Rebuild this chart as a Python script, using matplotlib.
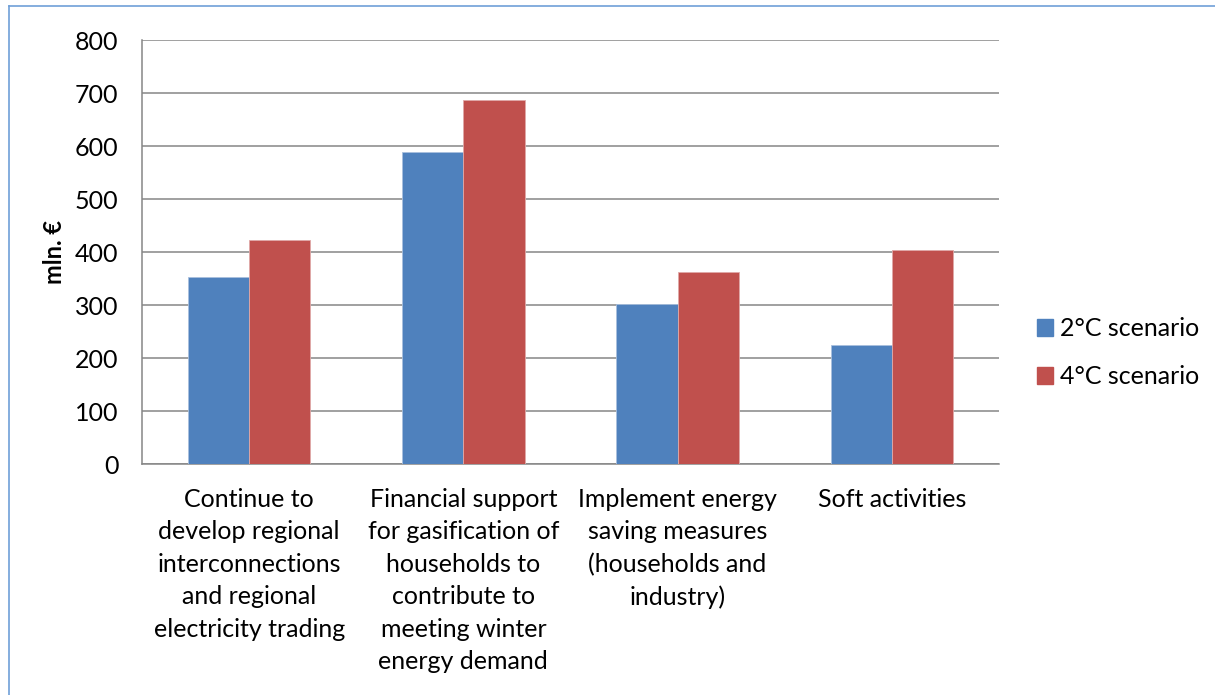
import matplotlib
matplotlib.use("Agg")
import matplotlib.pyplot as plt
import numpy as np
from matplotlib.lines import Line2D

plt.rcParams['font.family'] = ['Lato', 'DejaVu Sans']

categories = [
    "Continue to\ndevelop regional\ninterconnections\nand regional\nelectricity trading",
    "Financial support\nfor gasification of\nhouseholds to\ncontribute to\nmeeting winter\nenergy demand",
    "Implement energy\nsaving measures\n(households and\nindustry)",
    "Soft activities",
]
series_names = ["2°C scenario", "4°C scenario"]
values_2c = [353, 588, 302, 224]
values_4c = [423, 687, 362, 404]
yticks = [0, 100, 200, 300, 400, 500, 600, 700, 800]

blue = '#4F81BD'
red = '#C0504D'
grid_c = '#868686'

fig = plt.figure(figsize=(12.15, 6.95), dpi=100)
ax = fig.add_axes([142/1215, 1 - 464/695, (999 - 142)/1215, (464 - 40)/695])

x = np.arange(len(categories))
w = 1 / 3.5
ax.bar(x - w/2, values_2c, w, color=blue, edgecolor='#A9C0DE', linewidth=0.6,
       label=series_names[0], zorder=3)
ax.bar(x + w/2, values_4c, w, color=red, edgecolor='#E0A9A8', linewidth=0.6,
       label=series_names[1], zorder=3)

ax.set_xlim(-0.5, len(categories) - 0.5)
ax.set_ylim(0, 800)
ax.set_yticks(yticks)
ax.yaxis.grid(True, color=grid_c, linewidth=1.1, zorder=0)
ax.set_axisbelow(True)
for s in ['top', 'right']:
    ax.spines[s].set_visible(False)
for s in ['left', 'bottom']:
    ax.spines[s].set_color(grid_c)
    ax.spines[s].set_linewidth(1.1)
ax.tick_params(axis='both', length=0, labelsize=18, colors='black')
ax.tick_params(axis='y', pad=17)
ax.set_xticks(x)
ax.set_xticklabels(categories, linespacing=1.5, fontsize=18)
ax.tick_params(axis='x', pad=17)

fig.text(55/1215, 1 - 252/695, "mln. €", rotation=90, fontsize=17,
         fontweight='bold', ha='center', va='center')

handles = [plt.Rectangle((0, 0), 1, 1, color=blue), plt.Rectangle((0, 0), 1, 1, color=red)]
fig.legend(handles, series_names, loc='center left',
           bbox_to_anchor=(1014/1215, 1 - 353/695), frameon=False, fontsize=18,
           handlelength=0.65, handleheight=0.65, handletextpad=0.3, labelspacing=1.0)

# light blue frame around the chart area
fig.add_artist(Line2D([8.5/1215, 8.5/1215], [0, 1 - 5.5/695], transform=fig.transFigure,
                      color='#6FA0D8', linewidth=1.2))
fig.add_artist(Line2D([8.5/1215, 1], [1 - 5.5/695, 1 - 5.5/695], transform=fig.transFigure,
                      color='#6FA0D8', linewidth=1.2))

fig.savefig("out.png", dpi=100)
